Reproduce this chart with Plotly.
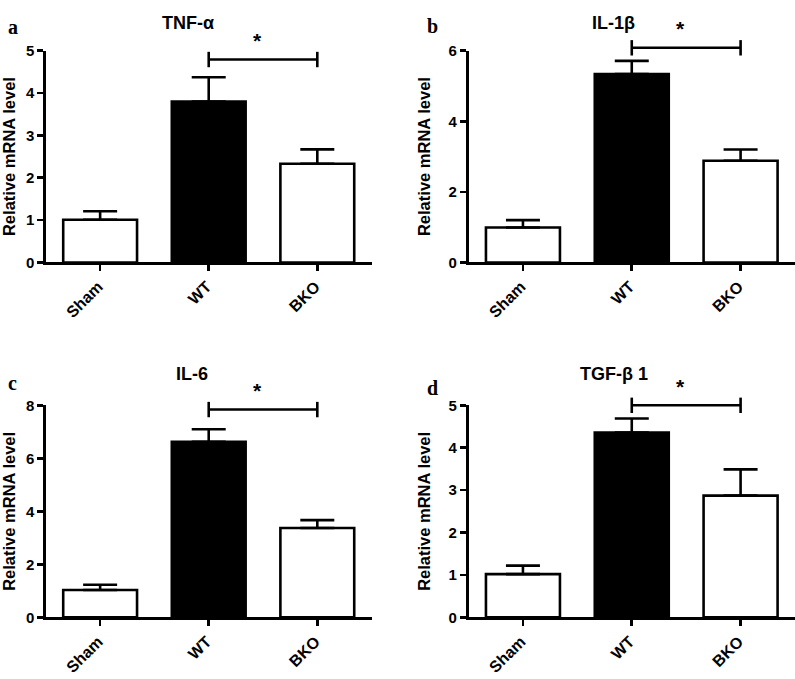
import plotly.graph_objects as go

# ---------------- data ----------------
categories = ["Sham", "WT", "BKO"]
bar_colors = ["white", "black", "white"]

panel_titles = ["TNF-α", "IL-1β", "IL-6", "TGF-β 1"]
panel_letters = ["a", "b", "c", "d"]

tnf_mean = [1.01, 3.80, 2.33]
tnf_err = [0.20, 0.57, 0.34]
il1b_mean = [0.99, 5.34, 2.88]
il1b_err = [0.21, 0.37, 0.32]
il6_mean = [1.03, 6.62, 3.37]
il6_err = [0.20, 0.48, 0.30]
tgf_mean = [1.02, 4.36, 2.87]
tgf_err = [0.20, 0.33, 0.62]

y_max = [5, 6, 8, 5]
y_dtick = [1, 2, 2, 1]
sig_y = [4.79, 6.08, 7.84, 5.00]
sig_pair = ["WT", "BKO"]

means = [tnf_mean, il1b_mean, il6_mean, tgf_mean]
errs = [tnf_err, il1b_err, il6_err, tgf_err]

# ---------------- layout geometry (pixels) ----------------
W, H = 795, 679
LW = 2.6
# (x_left, x_right, y_top, y_bottom) of plot areas in px
areas = [(43.0, 370, 42.7, 260), (467.3, 795, 42.7, 260),
         (43.0, 370, 406.5, 624), (467.3, 795, 406.5, 624)]
ann_top = [0, 0, 345, 345]      # top (px) of the overlay area used for brackets
title_pos = [(186, 14), (613, 14), (190, 374), (613, 374)]
letter_pos = [(10, 18), (431, 17), (10, 384), (431, 389)]

FONT = "Liberation Sans, Arial, sans-serif"
SERIF = "Liberation Serif, Times New Roman, serif"

fig = go.Figure()
layout = dict(width=W, height=H, margin=dict(l=0, r=0, t=0, b=0),
              paper_bgcolor="white", plot_bgcolor="rgba(0,0,0,0)",
              showlegend=False, font=dict(family=FONT, color="black"))
annotations = []

for i in range(4):
    xa = "x" if i == 0 else f"x{i+1}"
    ya = "y" if i == 0 else f"y{i+1}"
    yb_id = f"y{i+5}"            # hidden overlay axis with identical scale
    xl, xr, yt, yb = areas[i]
    fig.add_trace(go.Bar(
        x=categories, y=means[i], xaxis=xa, yaxis=ya, width=0.68,
        marker=dict(color=bar_colors, line=dict(color="black", width=LW)),
        error_y=dict(type="data", symmetric=False, array=errs[i],
                     arrayminus=[0] * len(errs[i]), color="black",
                     thickness=LW, width=17),
        cliponaxis=False, hoverinfo="skip"))
    # significance bracket on the taller, hidden y axis (same units per px)
    fig.add_trace(go.Scatter(
        x=sig_pair, y=[sig_y[i]] * 2, xaxis=xa, yaxis=yb_id,
        mode="lines+markers", line=dict(color="black", width=LW),
        marker=dict(symbol="line-ns-open", size=11,
                    line=dict(color="black", width=LW)),
        cliponaxis=False, hoverinfo="skip"))
    annotations.append(dict(x=1.45, y=sig_y[i], xref=xa, yref=yb_id,
                            text="<b>*</b>", showarrow=False, yshift=19,
                            font=dict(size=21, family=FONT)))

    layout["xaxis" if i == 0 else f"xaxis{i+1}"] = dict(
        domain=[xl / W, xr / W], anchor=ya, type="category",
        categoryorder="array", categoryarray=categories,
        range=[-0.5, 2.5], showline=True, linecolor="black", linewidth=LW,
        ticks="outside", ticklen=6, tickwidth=LW, tickcolor="black",
        tickangle=-45, showgrid=False, zeroline=False,
        ticklabelshift=-2,
        tickfont=dict(size=16, family=FONT, weight="bold"))
    layout["yaxis" if i == 0 else f"yaxis{i+1}"] = dict(
        domain=[1 - yb / H, 1 - yt / H], anchor=xa,
        range=[0, y_max[i]], dtick=y_dtick[i], tick0=0,
        showline=True, linecolor="black", linewidth=LW,
        ticks="outside", ticklen=6, tickwidth=LW, tickcolor="black",
        showgrid=False, zeroline=False,
        tickfont=dict(size=15, family=FONT, weight="bold"),
        title=dict(text="<b>Relative mRNA level</b>", standoff=14,
                   font=dict(size=16.5, family=FONT)))
    top = ann_top[i]
    layout[f"yaxis{i+5}"] = dict(
        domain=[1 - yb / H, 1 - top / H], anchor=xa, visible=False,
        range=[0, y_max[i] * (yb - top) / (yb - yt)], showgrid=False,
        zeroline=False)
    tx, ty = title_pos[i]
    annotations.append(dict(x=tx / W, y=1 - ty / H, xref="paper", yref="paper",
                            text=f"<b>{panel_titles[i]}</b>", showarrow=False,
                            xanchor="center", yanchor="middle",
                            font=dict(size=18, family=FONT)))
    lx, ly = letter_pos[i]
    annotations.append(dict(x=lx / W, y=1 - ly / H, xref="paper", yref="paper",
                            text=f"<b>{panel_letters[i]}</b>", showarrow=False,
                            xanchor="center", yanchor="middle",
                            font=dict(size=20, family=SERIF)))

layout["annotations"] = annotations
fig.update_layout(**layout)
# remove the browser's default 8px body margin so the figure fills the window
fig.write_html("out.html",
               config={"displayModeBar": False, "staticPlot": True},
               post_script="document.body.style.margin='0';"
                           "document.body.style.padding='0';")
